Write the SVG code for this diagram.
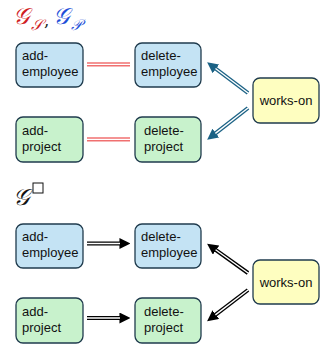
<svg xmlns="http://www.w3.org/2000/svg" width="326" height="349" viewBox="0 0 326 349">
<style>
.n rect{stroke:#1f3b4d;stroke-width:1.3}
.b rect{fill:#c4e3f4}
.g rect{fill:#c8f2cc}
.y rect{fill:#fefec0}
text.l{font-family:"Liberation Sans",Arial,sans-serif;font-size:13px;fill:#111}
.m{font-family:"DejaVu Serif","Liberation Serif",serif;font-style:italic}
.red{stroke:#f07070;stroke-width:1.4;fill:none}
.bo{stroke:#1b6285;stroke-width:4;fill:none}
.bk{stroke:#000;stroke-width:4;fill:none}
.wi{stroke:#fff;stroke-width:1.4;fill:none}
</style>
<defs>
<marker id="hb" viewBox="0 0 10 10" refX="0.5" refY="5" markerWidth="11" markerHeight="11" markerUnits="userSpaceOnUse" orient="auto"><path d="M0,0L10,5L0,10z" fill="#1b6285"/></marker>
<marker id="hk" viewBox="0 0 10 10" refX="0.5" refY="5" markerWidth="11" markerHeight="11" markerUnits="userSpaceOnUse" orient="auto"><path d="M0,0L10,5L0,10z" fill="#000"/></marker>
</defs>
<g id="titles">
<text x="13" y="24" font-size="23" fill="#d01c24" class="m">𝒢</text>
<text x="31" y="30" font-size="15" fill="#d01c24" class="m">𝒮</text>
<text x="44" y="26" font-size="17" fill="#222" font-family="DejaVu Serif,serif">,</text>
<text x="53" y="24" font-size="23" fill="#1e4fd8" class="m">𝒢</text>
<text x="71" y="30" font-size="15" fill="#1e4fd8" class="m">𝒫</text>
<text x="13" y="205" font-size="23" fill="#111" class="m">𝒢</text>
<rect x="33" y="183" width="10" height="10" fill="none" stroke="#111" stroke-width="1"/>
</g>
<g id="connectors">
<line class="red" x1="87" y1="63" x2="130" y2="63"/>
<line class="red" x1="87" y1="65.8" x2="130" y2="65.8"/>
<line class="red" x1="87" y1="138" x2="130" y2="138"/>
<line class="red" x1="87" y1="140.8" x2="130" y2="140.8"/>
<line class="bo" x1="248" y1="93" x2="215.5" y2="68.5" marker-end="url(#hb)"/>
<line class="wi" x1="248" y1="93" x2="215.5" y2="68.5"/>
<line class="bo" x1="248" y1="108" x2="215.4" y2="133.4" marker-end="url(#hb)"/>
<line class="wi" x1="248" y1="108" x2="215.4" y2="133.4"/>
<line class="bk" x1="87" y1="243.5" x2="120" y2="243.5" marker-end="url(#hk)"/>
<line class="wi" x1="87" y1="243.5" x2="120" y2="243.5"/>
<line class="bk" x1="87" y1="318" x2="120" y2="318" marker-end="url(#hk)"/>
<line class="wi" x1="87" y1="318" x2="120" y2="318"/>
<line class="bk" x1="248" y1="273" x2="215.6" y2="249.8" marker-end="url(#hk)"/>
<line class="wi" x1="248" y1="273" x2="215.6" y2="249.8"/>
<line class="bk" x1="248" y1="290" x2="215.4" y2="314.9" marker-end="url(#hk)"/>
<line class="wi" x1="248" y1="290" x2="215.4" y2="314.9"/>
</g>
<g id="add-employee-1" class="n b"><rect x="16" y="43" width="67" height="44" rx="7"/><text class="l" x="22" y="60">add-</text><text class="l" x="22" y="76">employee</text></g>
<g id="delete-employee-1" class="n b"><rect x="135" y="43" width="66" height="44" rx="7"/><text class="l" x="141" y="60">delete-</text><text class="l" x="141" y="76">employee</text></g>
<g id="add-project-1" class="n g"><rect x="16" y="117" width="67" height="45" rx="7"/><text class="l" x="22" y="135">add-</text><text class="l" x="22" y="151">project</text></g>
<g id="delete-project-1" class="n g"><rect x="135" y="117" width="66" height="45" rx="7"/><text class="l" x="144" y="135">delete-</text><text class="l" x="144" y="151">project</text></g>
<g id="works-on-1" class="n y"><rect x="253" y="78" width="66" height="45" rx="7"/><text class="l" x="286" y="105" text-anchor="middle">works-on</text></g>
<g id="add-employee-2" class="n b"><rect x="16" y="224" width="67" height="44" rx="7"/><text class="l" x="22" y="241">add-</text><text class="l" x="22" y="257">employee</text></g>
<g id="delete-employee-2" class="n b"><rect x="135" y="224" width="66" height="44" rx="7"/><text class="l" x="141" y="241">delete-</text><text class="l" x="141" y="257">employee</text></g>
<g id="add-project-2" class="n g"><rect x="16" y="298" width="67" height="45" rx="7"/><text class="l" x="22" y="316">add-</text><text class="l" x="22" y="332">project</text></g>
<g id="delete-project-2" class="n g"><rect x="135" y="298" width="66" height="45" rx="7"/><text class="l" x="144" y="316">delete-</text><text class="l" x="144" y="332">project</text></g>
<g id="works-on-2" class="n y"><rect x="253" y="260" width="66" height="44" rx="7"/><text class="l" x="286" y="287" text-anchor="middle">works-on</text></g>
</svg>
